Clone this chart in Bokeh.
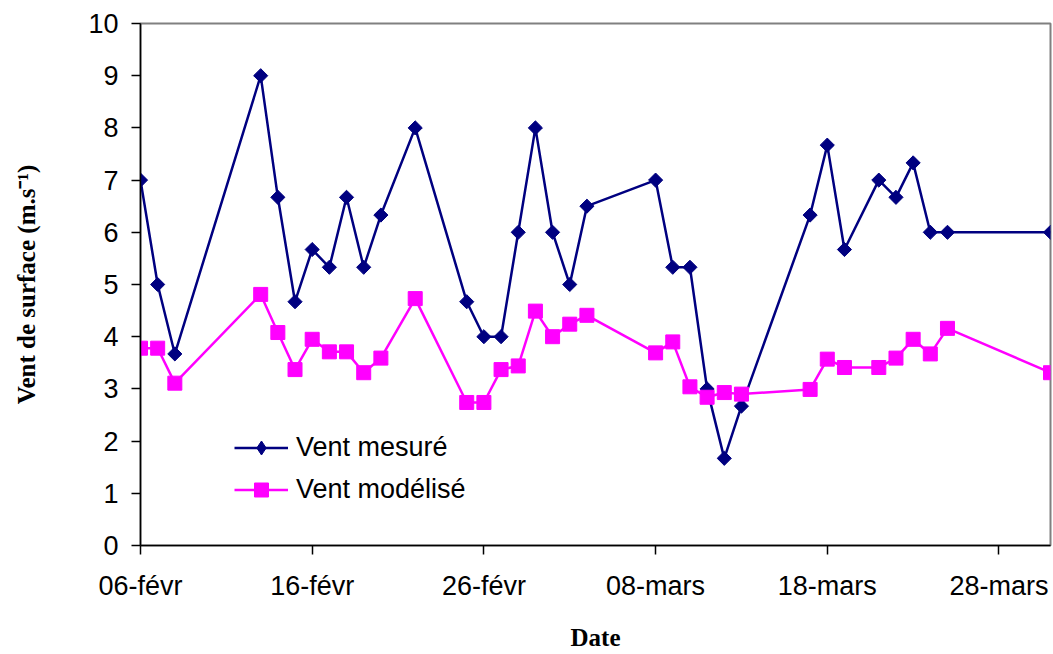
import math
import pandas as pd
from bokeh.plotting import figure
from bokeh.models import Range1d, FixedTicker, Legend, LegendItem
from bokeh.embed import file_html
from bokeh.resources import INLINE

# ---------------- data ----------------
dates = ["2003-02-06", "2003-02-07", "2003-02-08", "2003-02-13", "2003-02-14",
         "2003-02-15", "2003-02-16", "2003-02-17", "2003-02-18", "2003-02-19",
         "2003-02-20", "2003-02-22", "2003-02-25", "2003-02-26", "2003-02-27",
         "2003-02-28", "2003-03-01", "2003-03-02", "2003-03-03", "2003-03-04",
         "2003-03-08", "2003-03-09", "2003-03-10", "2003-03-11", "2003-03-12",
         "2003-03-13", "2003-03-17", "2003-03-18", "2003-03-19", "2003-03-21",
         "2003-03-22", "2003-03-23", "2003-03-24", "2003-03-25", "2003-03-31"]

vent_mesure = [7.0, 5.0, 3.67, 9.0, 6.67, 4.67, 5.67, 5.33, 6.67, 5.33,
               6.33, 8.0, 4.67, 4.0, 4.0, 6.0, 8.0, 6.0, 5.0, 6.5,
               7.0, 5.33, 5.33, 3.0, 1.67, 2.67, 6.33, 7.67, 5.67, 7.0,
               6.67, 7.33, 6.0, 6.0, 6.0]

vent_modelise = [3.78, 3.78, 3.11, 4.81, 4.08, 3.37, 3.95, 3.71, 3.71, 3.31,
                 3.59, 4.73, 2.74, 2.74, 3.37, 3.44, 4.49, 4.0, 4.24, 4.41,
                 3.69, 3.9, 3.04, 2.84, 2.93, 2.9, 2.99, 3.57, 3.41, 3.41,
                 3.59, 3.95, 3.67, 4.16, 3.31]

tick_dates = ["2003-02-06", "2003-02-16", "2003-02-26", "2003-03-08", "2003-03-18", "2003-03-28"]
tick_labels = ["06-févr", "16-févr", "26-févr", "08-mars", "18-mars", "28-mars"]

start_date = "2003-02-06"
end_date = "2003-03-31"

series_names = ["Vent mesuré", "Vent modélisé"]
y_title = "Vent de surface (m.s⁻¹)"
x_title = "Date"

# ---------------- transform dates to day offsets ----------------
t0 = pd.Timestamp(start_date)
x_days = [(pd.Timestamp(d) - t0).days for d in dates]
tick_days = [(pd.Timestamp(d) - t0).days for d in tick_dates]
x_end = (pd.Timestamp(end_date) - t0).days

W, H = 1052, 653
p = figure(width=W, height=H, output_backend="svg", toolbar_location=None,
           x_range=Range1d(0, x_end), y_range=Range1d(0, 10),
           min_border_left=140, min_border_right=2, min_border_top=23,
           min_border_bottom=108)

p.background_fill_color = "white"
p.border_fill_color = "white"
p.outline_line_color = "#808080"
p.outline_line_width = 2
p.xgrid.visible = False
p.ygrid.visible = False

tick_font = "Liberation Sans"
title_font = "Liberation Serif"

# x axis
p.xaxis.ticker = FixedTicker(ticks=tick_days)
p.xaxis.major_label_overrides = {d: lab for d, lab in zip(tick_days, tick_labels)}
p.xaxis.minor_tick_line_color = None
# y axis
p.yaxis.ticker = FixedTicker(ticks=list(range(0, 11)))
p.yaxis.minor_tick_line_color = None

for ax in (p.xaxis, p.yaxis):
    ax.axis_line_color = "black"
    ax.axis_line_width = 1.5
    ax.major_tick_line_color = "black"
    ax.major_tick_line_width = 1.5
    ax.major_tick_out = 9
    ax.major_tick_in = 0
    ax.major_label_text_font = tick_font
    ax.major_label_text_font_size = "27px"
    ax.major_label_text_color = "black"
    ax.axis_label_text_font = title_font
    ax.axis_label_text_font_style = "bold"
    ax.axis_label_text_font_size = "25px"
    ax.axis_label_text_color = "black"

p.yaxis.major_label_standoff = 13
p.xaxis.major_label_standoff = 16
p.yaxis.axis_label = y_title
p.xaxis.axis_label = x_title
p.yaxis.axis_label_standoff = 45
p.xaxis.axis_label_standoff = 20

navy = "#000080"
magenta = "#FF00FF"

l1 = p.line(x_days, vent_mesure, line_color=navy, line_width=2.5)
s1 = p.scatter(x_days, vent_mesure, marker="square", angle=math.pi / 4, size=10,
               fill_color=navy, line_color=navy)
l2 = p.line(x_days, vent_modelise, line_color=magenta, line_width=2.5)
s2 = p.scatter(x_days, vent_modelise, marker="square", size=14,
               fill_color=magenta, line_color=magenta)

# diamond glyph used for the legend entry (legend markers are never rotated);
# it sits hidden inside the first rotated-square marker
s1_leg = p.scatter(x_days[:1], vent_mesure[:1], marker="diamond", size=13,
                   fill_color=navy, line_color=navy)

legend = Legend(items=[LegendItem(label=series_names[0], renderers=[l1, s1_leg], index=0),
                       LegendItem(label=series_names[1], renderers=[l2, s2], index=0)],
                location=(94, 38))
legend.padding = 0
legend.margin = 0
legend.spacing = 7
legend.glyph_width = 54
legend.glyph_height = 35
legend.label_height = 35
legend.label_standoff = 8
legend.border_line_color = None
legend.background_fill_alpha = 0
legend.label_text_font = tick_font
legend.label_text_font_size = "27px"
legend.label_text_color = "black"
p.add_layout(legend, "center")

open("out.html", "w").write(file_html(p, INLINE))
